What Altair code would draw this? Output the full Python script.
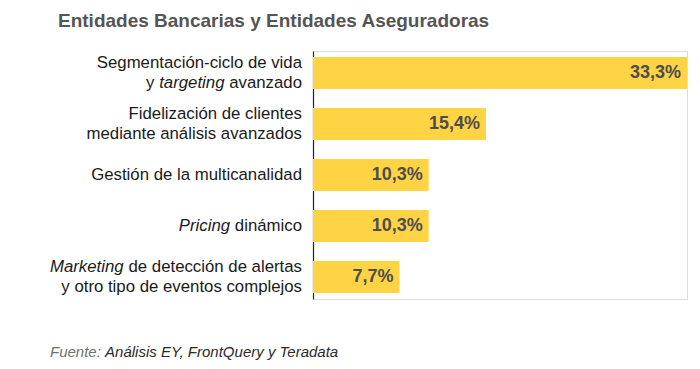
import altair as alt
import pandas as pd

# ---- data ----
categories = ["seg", "fid", "ges", "pri", "mkt"]
values = [33.3, 15.4, 10.3, 10.3, 7.7]
value_labels = ["33,3%", "15,4%", "10,3%", "10,3%", "7,7%"]
label_lines = [
    [[("Segmentación-ciclo de vida", False)],
     [("y ", False), ("targeting", True), (" avanzado", False)]],
    [[("Fidelización de clientes", False)],
     [("mediante análisis avanzados", False)]],
    [[("Gestión de la multicanalidad", False)]],
    [[("Pricing", True), (" dinámico", False)]],
    [[("Marketing", True), (" de detección de alertas", False)],
     [("y otro tipo de eventos complejos", False)]],
]
title_text = "Entidades Bancarias y Entidades Aseguradoras"
source_lead = "Fuente:"
source_rest = "Análisis EY, FrontQuery y Teradata"

FONT = "Liberation Sans"
LABEL_SIZE = 16.8
LABEL_PAD = 11
LINE_H = 20

# Arial / Liberation Sans advance widths (per 1000 em)
W = {" ": 278, "-": 333, "a": 556, "b": 556, "c": 500, "d": 556, "e": 556, "f": 278,
     "g": 556, "h": 556, "i": 222, "j": 222, "k": 500, "l": 222, "m": 833, "n": 556,
     "o": 556, "p": 556, "q": 556, "r": 333, "s": 500, "t": 278, "u": 556, "v": 500,
     "w": 722, "x": 500, "y": 500, "z": 500, "á": 556, "é": 556, "í": 278, "ó": 556,
     "S": 667, "F": 611, "G": 778, "P": 667, "M": 833, "A": 667, "E": 667, "Y": 667,
     "Q": 778, "T": 611, ":": 278, ",": 278}


def tw(s, size):
    return sum(W.get(ch, 556) for ch in s) / 1000 * size


rows = []
for cat, lines in zip(categories, label_lines):
    n = len(lines)
    for li, segs in enumerate(lines):
        yo = (li - (n - 1) / 2) * LINE_H
        cum = 0.0
        for text, ital in reversed(segs):
            trailing = len(text) - len(text.rstrip(" "))
            right = -LABEL_PAD - cum - tw(" " * trailing, LABEL_SIZE)
            rows.append({"cat": cat, "t": text.strip(), "italic": ital,
                         "xo": right, "yo": yo})
            cum += tw(text, LABEL_SIZE)
labels_df = pd.DataFrame(rows)

df = pd.DataFrame({"cat": categories, "v": values, "lab": value_labels})

y_enc = alt.Y("cat:N", sort=categories,
              scale=alt.Scale(paddingInner=0.373, paddingOuter=0.118),
              axis=alt.Axis(labels=False, ticks=False, title=None, grid=False,
                            domainColor="#222222", domainWidth=1.2))
x_enc = alt.X("v:Q", scale=alt.Scale(domain=[0, 33.3], nice=False), axis=None)

bars = alt.Chart(df).mark_bar(color="#FFD444").encode(x=x_enc, y=y_enc)
vals = alt.Chart(df).mark_text(align="right", baseline="middle", dx=-6,
                               font=FONT, fontSize=18, fontWeight="bold",
                               color="#4d4d4d").encode(
    x="v:Q", y=alt.Y("cat:N", sort=categories), text="lab:N")


def label_layer(ital, yo):
    return alt.Chart(labels_df).transform_filter(
        (alt.datum.italic == ital) & (alt.datum.yo == yo)
    ).mark_text(align="right", baseline="middle", font=FONT, fontSize=LABEL_SIZE,
                dy=yo,
                fontStyle="italic" if ital else "normal", color="#1a1a1a").encode(
        x=alt.value(0),
        xOffset=alt.XOffset("xo:Q", scale=None),
        y=alt.Y("cat:N", sort=categories),
        text="t:N")


label_layers = [label_layer(it, yo)
                for it, yo in sorted(set(zip(labels_df["italic"], labels_df["yo"])))]

title = alt.Chart(pd.DataFrame({"t": [title_text]})).mark_text(
    align="left", baseline="alphabetic", font=FONT, fontSize=19,
    fontWeight="bold", color="#555555").encode(
    x=alt.value(-255), y=alt.value(-24), text="t:N")

lead_w = tw(source_lead + " ", 15)
src1 = alt.Chart(pd.DataFrame({"t": [source_lead]})).mark_text(
    align="left", baseline="alphabetic", font=FONT, fontSize=15,
    fontStyle="italic", color="#707070").encode(
    x=alt.value(-263), y=alt.value(306), text="t:N")
src2 = alt.Chart(pd.DataFrame({"t": [source_rest]})).mark_text(
    align="left", baseline="alphabetic", font=FONT, fontSize=15,
    fontStyle="italic", color="#2a2a2a").encode(
    x=alt.value(-263 + lead_w), y=alt.value(306), text="t:N")

chart = alt.layer(bars, vals, *label_layers, title, src1, src2).properties(
    width=374, height=248,
    autosize=alt.AutoSizeParams(type="none"),
    padding={"left": 305, "top": 43, "right": 5, "bottom": 62},
).configure_view(stroke=None).configure(background="white")

chart.save("out.html", embed_options={"renderer": "svg", "actions": False})
